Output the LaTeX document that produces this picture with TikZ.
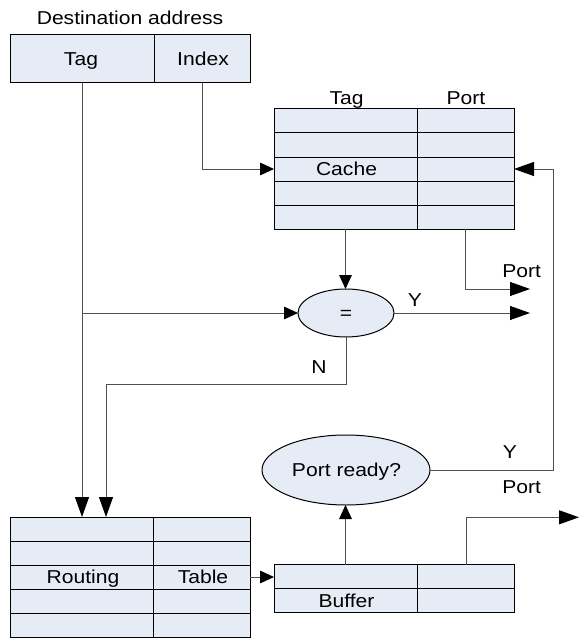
\documentclass[tikz,border=0pt]{standalone}
\usepackage{fontspec}
\setmainfont{Liberation Sans}[FakeStretch=1.13]
\usetikzlibrary{arrows.meta,shapes.geometric}
\definecolor{cellfill}{HTML}{E6ECF6}
\definecolor{wire}{HTML}{505050}
\begin{document}
\begin{tikzpicture}[x=0.75pt,y=-0.75pt,
  font=\fontsize{14pt}{16pt}\selectfont,
  cell/.style={draw=black, fill=cellfill, minimum height=18pt, inner sep=0pt, outer sep=0pt, line width=0.75pt},
  colL/.style={minimum width=107.25pt},
  colR/.style={minimum width=72.75pt},
  oval/.style={ellipse, draw=black, fill=cellfill, inner sep=0pt, outer sep=0pt, line width=0.75pt},
  txt/.style={anchor=base, inner sep=0pt},
  wirestyle/.style={draw=wire, line width=0.75pt},
  arr/.style={wirestyle, -{Triangle[length=10.5pt,width=9.5pt,color=black]}},
  arrL/.style={wirestyle, -{Triangle[length=15pt,width=10.5pt,color=black]}}]
\useasboundingbox (0,0) rectangle (580,638);

% destination address register
\node[txt] (dest) at (130,25) {Destination address};
\node[cell, minimum width=108pt, minimum height=36pt] (tagA) at (82,59) {};
\node[cell, minimum width=72pt, minimum height=36pt] (idx) at (202,59) {};
\node[txt] (tagAtxt) at (81,66) {Tag};
\node[txt] (idxtxt) at (203,66) {Index};

% cache
\foreach \i in {1,...,5} {
  \node[cell, colL] (cL\i) at (345.5,{97+24*\i}) {};
  \node[cell, colR] (cR\i) at (465.5,{97+24*\i}) {};
}
\node[txt] (chTag) at (346.5,105) {Tag};
\node[txt] (chPort) at (466,105) {Port};
\node[txt] (chName) at (346.5,175.5) {Cache};

% comparator
\node[oval, minimum width=72pt, minimum height=36pt] (eq) at (346,313) {};
\node[txt] (eqtxt) at (346,319) {=};

% port ready check
\node[oval, minimum width=126pt, minimum height=52.5pt] (pr) at (346,470) {};
\node[txt] (prtxt) at (346.5,476.5) {Port ready?};

% routing table
\foreach \i in {1,...,5} {
  \node[cell, colL] (rL\i) at (81.5,{505+24*\i}) {};
  \node[cell, colR] (rR\i) at (201.5,{505+24*\i}) {};
}
\node[txt] (rtxtA) at (83,583.5) {Routing};
\node[txt] (rtxtB) at (203,583.5) {Table};

% buffer
\foreach \i in {1,2} {
  \node[cell, colL] (bL\i) at (345.5,{552.5+24*\i}) {};
  \node[cell, colR] (bR\i) at (466,{552.5+24*\i}) {};
}
\node[txt] (btxt) at (346.5,607) {Buffer};

% free ends and corners of the wires
\coordinate (portA) at (530,289);
\coordinate (yout) at (530,313);
\coordinate (nturn) at (106,384.5);
\coordinate (portB) at (579,517.3);
\coordinate (fbcorner) at (553,468);

% wire labels
\node[txt] (lblPortA) at (521.7,277) {Port};
\node[txt] (lblYA) at (415,306.7) {Y};
\node[txt] (lblN) at (319,373.3) {N};
\node[txt] (lblYB) at (510,458.3) {Y};
\node[txt] (lblPortB) at (521.7,493.3) {Port};

% wires
\draw[arrL] (tagA.south) -- (tagA.south |- rL1.north);
\draw[arr] (tagA.south |- eq.west) -- (eq.west);
\draw[arr] (idx.south) |- (cL3.west);
\draw[arr] (cL5.south) -- (cL5.south |- eq.north);
\draw[arrL] (cR5.south) |- (portA);
\draw[arrL] (eq.east) -- (yout);
\draw[arrL] (eq.south) |- (nturn) -- (nturn |- rL1.north);
\draw[arr] (rR3.east) -- (rR3.east -| bL1.west);
\draw[arr] (bL1.north) -- (bL1.north |- pr.south);
\draw[arrL] (bR1.north) |- (portB);
\draw[arrL] (pr.east) -- (pr.east -| fbcorner) |- (cR3.east);
\end{tikzpicture}
\end{document}
